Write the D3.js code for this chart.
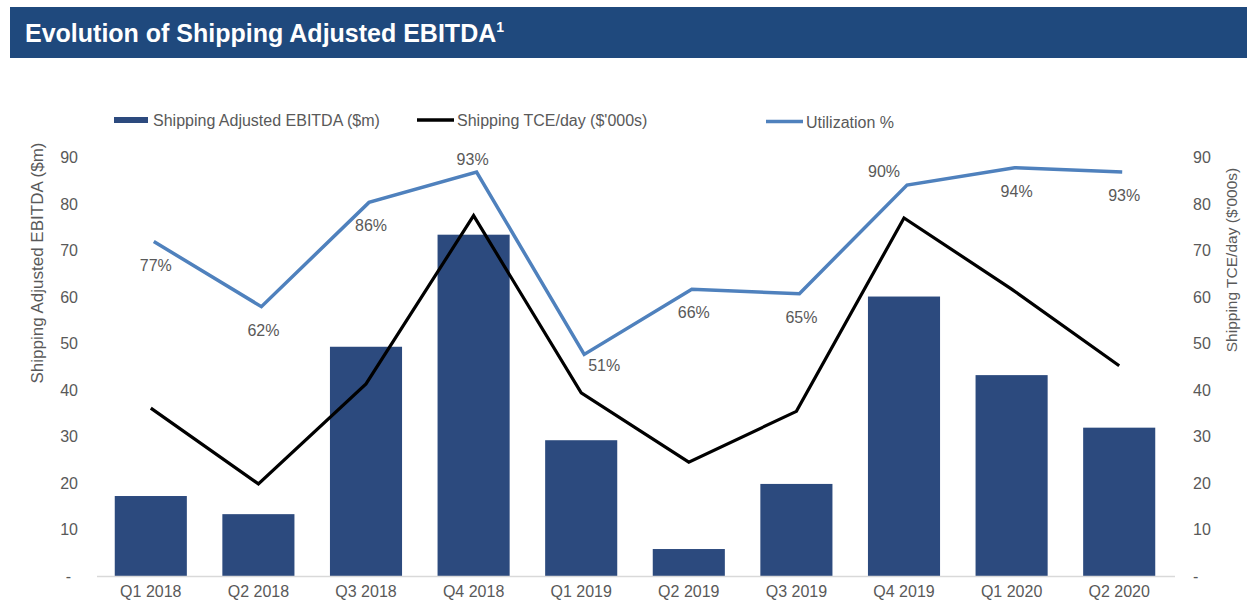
<!DOCTYPE html>
<html>
<head>
<meta charset="utf-8">
<script src="https://cdn.jsdelivr.net/npm/d3@7"></script>
<style>
  html, body { margin: 0; padding: 0; background: #fff; }
  svg { display: block; font-family: "Liberation Sans", Arial, Helvetica, sans-serif; }
</style>
</head>
<body>
<svg id="chart" width="1255" height="607"></svg>
<script>
// ---- data ----
const categories = ["Q1 2018","Q2 2018","Q3 2018","Q4 2018","Q1 2019","Q2 2019","Q3 2019","Q4 2019","Q1 2020","Q2 2020"];
const ebitda = [17.2, 13.3, 49.3, 73.4, 29.2, 5.8, 19.8, 60.1, 43.2, 31.9];
const tcePerDay = [36.1, 19.8, 41.3, 77.5, 39.4, 24.5, 35.4, 77.0, 61.7, 45.2];
const utilization = [77, 62, 86, 93, 51, 66, 65, 90, 94, 93];
const leftTicks = [0, 10, 20, 30, 40, 50, 60, 70, 80, 90];
const rightTicks = [0, 10, 20, 30, 40, 50, 60, 70, 80, 90];
const legendLabels = ["Shipping Adjusted EBITDA ($m)", "Shipping TCE/day ($'000s)", "Utilization %"];
const title = "Evolution of Shipping Adjusted EBITDA";

// ---- drawing ----
const svg = d3.select("#chart");
const textGray = "#595959";
const barColor = "#2c4a7e";
const utilColor = "#4f81bd";
const fs = 16;

// Title bar
svg.append("rect").attr("x", 10).attr("y", 7).attr("width", 1237).attr("height", 51)
  .attr("fill", "#1f497d");
const t = svg.append("text").attr("x", 25).attr("y", 42)
  .attr("fill", "#fff").attr("font-size", 25).attr("font-weight", "bold").text(title);
t.append("tspan").attr("font-size", 14).attr("dy", -10).text("1");

const x = d3.scaleBand().domain(categories).range([97, 1173]).paddingInner(0.33).paddingOuter(0.165);
const yL = d3.scaleLinear().domain([0, 90]).range([576, 157.5]);
const yR = d3.scaleLinear().domain([0, 90]).range([576, 157.5]);
const yU = d3.scaleLinear().domain([0, 100]).range([576, 141.6]);
const cx = c => x(c) + x.bandwidth() / 2;

// Bars
svg.append("g").selectAll("rect").data(categories).join("rect")
  .attr("x", d => x(d))
  .attr("y", (d, i) => yL(ebitda[i]))
  .attr("width", x.bandwidth())
  .attr("height", (d, i) => yL(0) - yL(ebitda[i]))
  .attr("fill", barColor);

// Baseline
svg.append("line").attr("x1", 97).attr("x2", 1175).attr("y1", yL(0) + 0.5).attr("y2", yL(0) + 0.5)
  .attr("stroke", "#d9d9d9").attr("stroke-width", 1.5);

// Left axis
const fmt = v => v === 0 ? "-" : String(v);
const axL = svg.append("g").attr("transform", "translate(84,0)")
  .call(d3.axisLeft(yL).tickValues(leftTicks).tickFormat(fmt).tickSize(0).tickPadding(6));
axL.select(".domain").remove();
axL.selectAll("text").attr("fill", textGray).attr("font-size", fs)
  .attr("font-family", "Liberation Sans, Arial, sans-serif")
  .attr("dx", d => d === 0 ? -7 : 0);

// Right axis
const axR = svg.append("g").attr("transform", "translate(1187,0)")
  .call(d3.axisRight(yR).tickValues(rightTicks).tickFormat(fmt).tickSize(0).tickPadding(6));
axR.select(".domain").remove();
axR.selectAll("text").attr("fill", textGray).attr("font-size", fs)
  .attr("font-family", "Liberation Sans, Arial, sans-serif");

// Bottom axis
const axB = svg.append("g").attr("transform", "translate(0,576)")
  .call(d3.axisBottom(x).tickSize(0).tickPadding(10));
axB.select(".domain").remove();
axB.selectAll("text").attr("fill", textGray).attr("font-size", fs)
  .attr("font-family", "Liberation Sans, Arial, sans-serif");

// Axis titles
svg.append("text").attr("transform", "translate(43,263) rotate(-90)")
  .attr("text-anchor", "middle").attr("fill", textGray).attr("font-size", 17)
  .text("Shipping Adjusted EBITDA ($m)");
svg.append("text").attr("transform", "translate(1237,260) rotate(-90)")
  .attr("text-anchor", "middle").attr("fill", textGray).attr("font-size", 15.5)
  .text("Shipping TCE/day ($'000s)");

// TCE line
const lineTce = d3.line().x((d, i) => cx(categories[i])).y(d => yR(d));
svg.append("path").datum(tcePerDay).attr("d", lineTce)
  .attr("fill", "none").attr("stroke", "#000").attr("stroke-width", 3.2).attr("stroke-linejoin", "miter");

// Utilization line
const lineU = d3.line().x((d, i) => cx(categories[i]) + 3).y(d => yU(d));
svg.append("path").datum(utilization).attr("d", lineU)
  .attr("fill", "none").attr("stroke", utilColor).attr("stroke-width", 3.5).attr("stroke-linejoin", "miter");

// Utilization labels (placement offsets)
const place = { above: [-4, -13], left: [-23, -14], right: [20, 11], below: [2, 23] };
const placement = i => i === 3 ? "above" : i === 7 ? "left" : i === 4 ? "right" : "below";
svg.append("g").selectAll("text").data(utilization).join("text")
  .attr("x", (d, i) => cx(categories[i]) + 3 + place[placement(i)][0])
  .attr("y", (d, i) => yU(d) + place[placement(i)][1] + 6)
  .attr("text-anchor", "middle").attr("fill", textGray).attr("font-size", fs)
  .text(d => d + "%");

// Legend
const lg = svg.append("g");
lg.append("rect").attr("x", 114).attr("y", 117).attr("width", 34).attr("height", 6).attr("fill", barColor);
lg.append("text").attr("x", 153).attr("y", 126).attr("fill", textGray).attr("font-size", fs).text(legendLabels[0]);
lg.append("line").attr("x1", 417).attr("x2", 454).attr("y1", 120).attr("y2", 120).attr("stroke", "#000").attr("stroke-width", 3.5);
lg.append("text").attr("x", 457).attr("y", 126).attr("fill", textGray).attr("font-size", fs).text(legendLabels[1]);
lg.append("line").attr("x1", 766).attr("x2", 803).attr("y1", 121.5).attr("y2", 121.5).attr("stroke", utilColor).attr("stroke-width", 3.5);
lg.append("text").attr("x", 806).attr("y", 127.5).attr("fill", textGray).attr("font-size", fs).text(legendLabels[2]);
</script>
</body>
</html>
